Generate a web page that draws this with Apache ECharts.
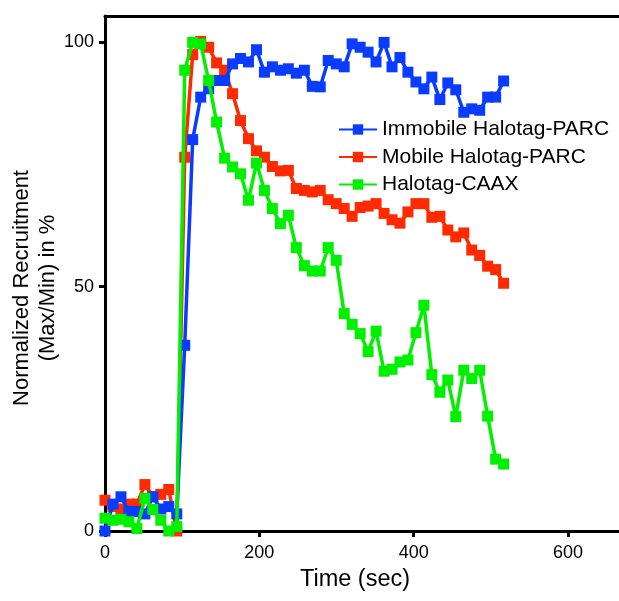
<!DOCTYPE html>
<html>
<head>
<meta charset="utf-8">
<script src="https://cdn.jsdelivr.net/npm/echarts@6/dist/echarts.min.js"></script>
<style>html,body{margin:0;padding:0;background:#fff;}#c{width:619px;height:601px;}</style>
</head>
<body>
<div id="c"></div>
<script>
const timeSec = [0, 10.3, 20.7, 31, 41.3, 51.7, 62, 72.3, 82.6, 93, 103.3, 113.6, 124, 134.3, 144.6, 155, 165.3, 175.6, 185.9, 196.3, 206.6, 216.9, 227.3, 237.6, 247.9, 258.3, 268.6, 278.9, 289.2, 299.6, 309.9, 320.2, 330.6, 340.9, 351.2, 361.6, 371.9, 382.2, 392.5, 402.9, 413.2, 423.5, 433.9, 444.2, 454.5, 464.9, 475.2, 485.5, 495.8, 506.2, 516.5];
const immobile = [0, 5.5, 7, 4, 4, 3.5, 7, 4.5, 5, 3.5, 38, 80.1, 88.8, 90.5, 92.2, 92.2, 95.6, 96.7, 96, 98.5, 93.9, 95, 94.3, 94.6, 93.7, 94.3, 91, 90.9, 96.3, 95.6, 95, 99.7, 99, 98, 96, 100, 95, 96.9, 93.9, 91.9, 90.5, 92.9, 88.3, 91.7, 90.3, 85.7, 86.4, 86.1, 88.8, 88.8, 92.1];
const mobile = [6.3, 5, 4.5, 5.5, 5.5, 9.5, 7, 7.5, 8.5, 0, 76.5, 97.5, 100.2, 99, 95.8, 94.3, 89.5, 84, 80.3, 77.8, 76.5, 74.6, 73.7, 73.8, 70.1, 69.7, 69.4, 69.7, 67.8, 67, 66, 64.4, 66.2, 66.5, 67, 65, 63.7, 63, 65.3, 67, 67, 64.2, 64.4, 61.6, 60.2, 61, 57.5, 56.4, 54.2, 53.5, 50.7];
const caax = [2.6, 2.2, 2.4, 1.9, 0.5, 6.7, 4.4, 2.2, 0, 0.9, 94.3, 100, 99.7, 92.2, 83.7, 76.3, 74.5, 73.1, 67.7, 75.3, 69.7, 66, 62.9, 64.6, 58, 54.3, 53.2, 53.2, 58, 55.4, 44.5, 42.3, 40.4, 36.7, 40.9, 32.7, 33.1, 34.6, 35, 40.6, 46.2, 32, 28.4, 30.9, 23.4, 32.9, 31.2, 32.9, 23.5, 14.7, 13.7];
const seriesNames = ['Immobile Halotag-PARC', 'Mobile Halotag-PARC', 'Halotag-CAAX'];
const seriesColors = ['#0a3cff', '#ff2a00', '#00f000'];
const xTicks = [0, 200, 400, 600];
const yTicks = [0, 50, 100];
const yTitleLines = ['Normalized Recruitment', '(Max/Min) in %'];

const FONT = 'Liberation Sans, Arial, Helvetica, sans-serif';
function pairs(vals){ return timeSec.map((t,i)=>[t, vals[i]]); }
const allVals = [immobile, mobile, caax];
const zOrder = [3, 2, 4];

const chart = echarts.init(document.getElementById('c'), null, {renderer:'canvas'});
chart.setOption({
  animation: false,
  backgroundColor: '#fff',
  grid: {left: 105, right: 0, top: 16, bottom: 70, containLabel: false, outerBoundsMode: 'none'},
  legend: {
    orient: 'vertical', left: 333, top: 114,
    itemWidth: 38, itemHeight: 13, itemGap: 6.5,
    data: seriesNames,
    textStyle: {fontFamily: FONT, fontSize: 21, color: '#000', lineHeight: 20}
  },
  graphic: yTitleLines.map((t, i) => ({
    type: 'text', x: 22 + i * 26, y: 288, rotation: Math.PI / 2,
    style: {text: t, fontFamily: FONT, fontSize: 22, fill: '#000', align: 'center', verticalAlign: 'middle'}
  })),
  xAxis: [{
    type: 'value', min: 0, max: 666, position: 'bottom',
    name: 'Time (sec)', nameLocation: 'middle', nameGap: 37,
    nameTextStyle: {fontFamily: FONT, fontSize: 23.5, color: '#000', padding: [0, 14, 0, 0]},
    axisLine: {show: true, onZero: false, lineStyle: {color: '#000', width: 3}},
    axisTick: {show: true, length: 6, lineStyle: {color: '#000', width: 3}, customValues: xTicks},
    axisLabel: {fontFamily: FONT, fontSize: 18, color: '#000', margin: 13, customValues: xTicks},
    splitLine: {show: false}
  }, {
    type: 'value', min: 0, max: 666, position: 'top',
    axisLine: {show: true, onZero: false, lineStyle: {color: '#000', width: 3}},
    axisTick: {show: false}, axisLabel: {show: false}, splitLine: {show: false}
  }],
  yAxis: {
    type: 'value', min: 0, max: 105.4,
    axisLine: {show: true, onZero: false, lineStyle: {color: '#000', width: 3}},
    axisTick: {show: true, length: 6, lineStyle: {color: '#000', width: 3}, customValues: yTicks},
    axisLabel: {fontFamily: FONT, fontSize: 18, color: '#000', margin: 11, customValues: yTicks},
    splitLine: {show: false}
  },
  series: seriesNames.map((n, k) => ({
    name: n, type: 'line', data: pairs(allVals[k]), z: zOrder[k],
    symbol: 'rect', symbolSize: 11,
    lineStyle: {color: seriesColors[k], width: 3.5},
    itemStyle: {color: seriesColors[k]},
    clip: false
  }))
});
</script>
</body>
</html>
